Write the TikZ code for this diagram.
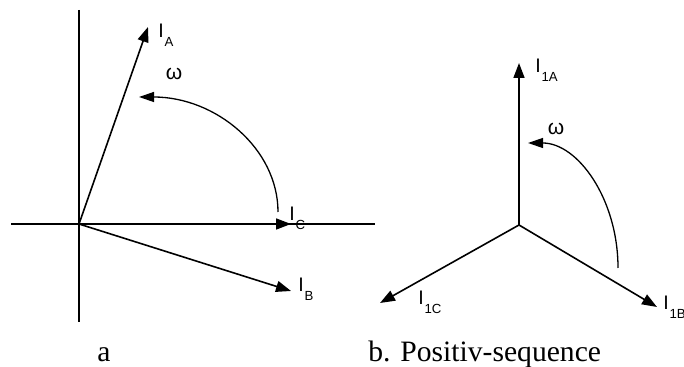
\documentclass[tikz,border=0pt]{standalone}
\usepackage{fontspec}
\setmainfont{Liberation Serif}
\setsansfont{Liberation Sans}
\usetikzlibrary{arrows.meta}
\newcommand{\cur}[1]{I\kern0.4pt\raisebox{-4.5pt}{\fontsize{6.6}{7}\selectfont #1}}

\begin{document}
\begin{tikzpicture}[x=0.5pt, y=-0.5pt,
        axis/.style={line width=1.1pt},
        vec/.style={line width=0.8pt, -{Triangle[length=7.5pt,width=5.5pt]}},
        rot/.style={line width=0.65pt, -{Triangle[length=7.5pt,width=5pt]}},
        lbl/.style={font=\sffamily\fontsize{9.8}{11}\selectfont, anchor=base west, inner sep=0pt},
        omg/.style={font=\sffamily\fontsize{10.5}{12}\selectfont, inner sep=0pt},
        capt/.style={font=\fontsize{14.8}{17}\selectfont, anchor=base, inner sep=0pt}
    ]
    \useasboundingbox (0,0) rectangle (684,367);

    % ============ (a) ============
    \coordinate (O) at (79,224);
    \coordinate (xl) at (11,224);
    \coordinate (xr) at (375,224);
    \coordinate (yt) at (79,10);
    \coordinate (yb) at (79,322);
    \draw[axis] (xl) -- (xr);
    \draw[axis] (yt) -- (yb);

    \coordinate (IA) at (148,27);
    \coordinate (IB) at (291,291);
    \coordinate (IC) at (291,224);
    \draw[vec] (O) -- (IA);
    \draw[vec] (O) -- (IB);
    \draw[vec] (O) -- (IC);
    \node[lbl] (lA) at (158,38) {\cur{A}};
    \node[lbl] (lC) at (289,221) {\cur{C}};
    \node[lbl] (lB) at (298,292) {\cur{B}};

    \coordinate (wa) at (278,212);
    \draw[rot] (wa) arc[start angle=0, end angle=-90, x radius=139, y radius=115];
    \node[omg] (oa) at (174,74) {ω};

    \node[capt] (ca) at (104,362) {a};

    % ============ (b) ============
    \coordinate (P) at (519,225);
    \coordinate (I1A) at (519,63);
    \coordinate (I1C) at (380,303);
    \coordinate (I1B) at (657,307);
    \draw[vec] (P) -- (I1A);
    \draw[vec] (P) -- (I1C);
    \draw[vec] (P) -- (I1B);
    \node[lbl] (l1A) at (535,73) {\cur{1A}};
    \node[lbl] (l1C) at (418,305) {\cur{1C}};
    \node[lbl] (l1B) at (663,310) {\cur{1B}};

    \coordinate (wb) at (618,268);
    \draw[rot] (wb) arc[start angle=0, end angle=-90, x radius=90, y radius=125];
    \node[omg] (ob) at (556,129) {ω};

    \node[capt, anchor=base west] (cb) at (368,362) {b. Positiv-sequence};
\end{tikzpicture}
\end{document}
